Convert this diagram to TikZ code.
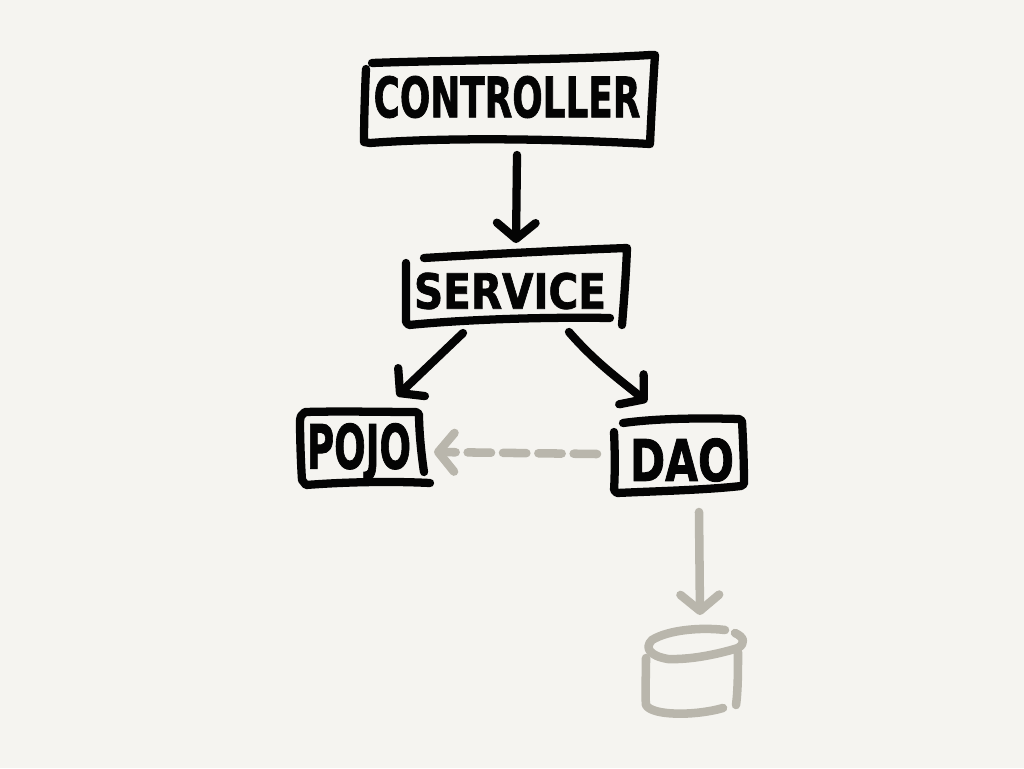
\documentclass[tikz,border=0pt]{standalone}
\usepackage{fontspec}
\setmainfont{DejaVu Sans}
\newfontfamily\handfont[FakeBold=1.6]{DejaVu Sans Bold}
\usepackage{graphicx}
\usetikzlibrary{arrows.meta,calc}
\definecolor{paper}{HTML}{F5F4F0}
\definecolor{ink}{HTML}{040404}
\definecolor{stone}{HTML}{B9B6AC}
\tikzset{
  x=0.75pt,y=-0.75pt,
  pen/.style={draw=ink,line width=6.2pt,line cap=round,line join=round},
  grey pen/.style={draw=stone,line width=6.4pt,line cap=round,line join=round},
  boxnode/.style={inner sep=0pt,outer sep=0pt,text=ink},
  barb/.style={-{Straight Barb[round,length=12pt,width=29pt]}},
  dashedline/.style={dash pattern=on 17.5pt off 9pt}
}
\newcommand{\handlabel}[3]{\resizebox{#2pt}{#3pt}{\handfont #1}}
\begin{document}
\begin{tikzpicture}
\useasboundingbox (0,0) rectangle (1024,768);
\fill[paper] (0,0) rectangle (1024,768);

% nodes
\node[boxnode,minimum width=217.5pt,minimum height=67.5pt] (controller) at (507,97) {\handlabel{CONTROLLER}{200}{31}};
\node[boxnode,minimum width=165pt,minimum height=60pt] (service) at (510,291) {\handlabel{SERVICE}{144}{27}};
\node[boxnode,minimum width=97.5pt,minimum height=57pt] (pojo) at (359,452) {\handlabel{POJO}{78}{34}};
\node[boxnode,minimum width=97.5pt,minimum height=57pt] (dao) at (682,460) {\handlabel{DAO}{78}{32}};
\node[boxnode,minimum width=72pt,minimum height=67.5pt] (db) at (693,672) {};

% hand-drawn boxes
\draw[pen] (372,63) .. controls (450,60) and (570,60) .. (650,55) -- (655,55) .. controls (653,85) and (651,120) .. (650,144)
  .. controls (560,139) and (450,137) .. (370,143) -- (364,142) .. controls (364,120) and (365,90) .. (366,69);
\draw[pen] (406,263) .. controls (406,285) and (406,305) .. (406,322) -- (409,325) .. controls (470,319) and (550,317) .. (610,318);
\draw[pen] (424,258) .. controls (490,254) and (570,250) .. (627,248) .. controls (626,275) and (624,300) .. (622,325);
\draw[pen] (300,420) .. controls (300,440) and (301,465) .. (302,480) -- (306,485) .. controls (345,482) and (390,481) .. (430,483);
\draw[pen] (300,420) -- (301,416) -- (305,412) .. controls (340,411) and (385,412) .. (416,412) -- (419,414) .. controls (419,430) and (421,452) .. (424,472);
\draw[pen] (614,432) .. controls (615,452) and (615,475) .. (614,490) -- (617,493) .. controls (660,491) and (705,490) .. (741,486) -- (744,484)
  .. controls (744,462) and (743,440) .. (742,421) -- (739,419) .. controls (705,418) and (660,418) .. (623,423);

% hand-drawn cylinder
\draw[grey pen] (725,630) .. controls (700,627) and (668,630) .. (652,640) .. controls (644,648) and (650,656) .. (668,659)
  .. controls (695,660) and (725,652) .. (738,648) .. controls (746,643) and (744,637) .. (735,633);
\draw[grey pen] (646,658) .. controls (646,675) and (645,695) .. (646,705) .. controls (652,716) and (695,716) .. (723,708);
\draw[grey pen] (738,652) .. controls (738,670) and (738,690) .. (736,705);

% connectors
\draw[pen,barb] ($(controller.south)+(10,13)$) -- ($(service.north)+(6,-8)$);
\draw[pen,barb] ($(service.south)+(-47,2)$) -- ($(pojo.north)+(38,-18)$);
\draw[pen,barb] ($(service.south)+(59,1)$) .. controls (595,362) and (620,380) .. ($(dao.north)+(-35,-20)$);
\draw[grey pen,barb,dashedline] ($(dao.west)+(-20,-6)$) -- ($(pojo.east)+(10,0)$);
\draw[grey pen,barb] ($(dao.south)+(17,14)$) -- ($(db.north)+(7,-12)$);
\end{tikzpicture}
\end{document}
